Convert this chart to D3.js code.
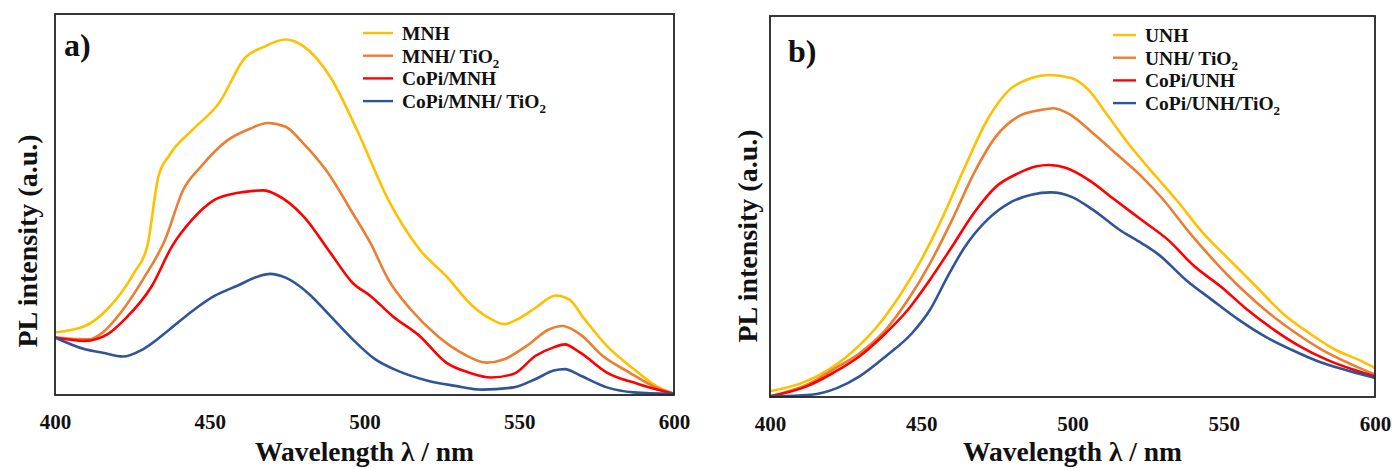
<!DOCTYPE html>
<html>
<head>
<meta charset="utf-8">
<script src="https://cdn.jsdelivr.net/npm/d3@7"></script>
<style>
body { margin: 0; background: #fff; }
text { font-family: "Liberation Serif", "Times New Roman", serif; font-weight: bold; fill: #111; }
</style>
</head>
<body>
<script>
// PL spectra, arbitrary units (0 = baseline, 100 = top of frame)
var mnh = [[400,16.4],[409.7,18.1],[416.9,22.5],[425.5,32],[429.8,39],[433.4,57.3],[437,63],[444.3,69.5],[452.9,76.5],[461.6,88.7],[467.3,91.3],[474.5,93.3],[480,91.7],[489,83.4],[497.6,69.5],[507.7,51.2],[517.8,38.2],[526.4,31.2],[535,23.3],[540.9,19.9],[545.2,18.6],[549.5,19.9],[555.3,22.9],[561.8,26.1],[566.1,25.1],[571.1,19.9],[578.3,12.9],[587,6.8],[594.2,2.4],[600,0.3]]
var mnhTi = [[400,15.1],[411,14.6],[415.4,16.4],[421.2,21.6],[428.4,30.3],[435.6,40.8],[441.4,53.8],[447.1,59.9],[455.8,66.9],[463,69.9],[468.8,71.4],[474.5,70.4],[480.3,66],[487.5,59.1],[496.2,47.7],[501.9,39.9],[507.7,30.3],[514.9,22.5],[523.6,15.5],[532.2,10.7],[539.4,8.5],[545.2,9.4],[552.4,12.9],[559.6,17.2],[564,18.1],[569.7,15.9],[576.9,10.3],[585.6,5.9],[594.2,2],[600,0.3]]
var copiMnh = [[400,15.1],[409.7,14.2],[416.9,15.9],[422.6,19.9],[431.3,28.6],[437.8,39],[444.3,46],[451.5,51.2],[458.7,53],[467.3,53.7],[471.7,52.5],[480.3,46.9],[489,37.3],[496.2,29.4],[501.9,26],[509.1,20.7],[517.8,15.5],[526.4,8.5],[533.7,5.9],[540.9,4.6],[548.1,5.5],[555.3,10.3],[561.1,12.5],[564.7,13.3],[569.7,11.1],[578.3,5.9],[588.4,2.9],[600,0.3]]
var copiMnhTi = [[400,15.1],[409.7,12],[415.4,11.1],[421.9,10.1],[428.4,12],[437,17.2],[444.3,22],[451.5,26],[458.7,28.6],[465.9,31.2],[469.5,31.8],[474.5,30.8],[481.7,26.8],[489,20.7],[496.2,14.6],[503.4,9.4],[510.6,6.4],[520.7,3.7],[529.3,2.4],[538,1.4],[548.1,2],[555.3,4.2],[561.1,6.4],[564.7,6.8],[569.7,5.1],[578.3,2],[587,0.7],[600,0.3]]

var unh = [[400,1.5],[410.6,3.7],[419.4,7.2],[426.7,11.5],[435.4,18.5],[442.7,26.4],[450,36],[457.2,47.4],[464.5,60.5],[471.8,72.7],[479.1,80.6],[486.4,83.7],[492.2,84.5],[499.5,83.7],[505.3,80.6],[511.1,74.5],[518.4,66.6],[525.7,59.6],[534.4,51.7],[543.2,43],[551.9,36],[560.7,29],[569.4,22],[578.2,16.8],[586.9,12.4],[595.6,9.4],[600,7.6]]
var unhTi = [[400,0.2],[413.5,3.7],[420.8,7.2],[429.6,11.5],[438.3,17.7],[445.6,25.5],[452.9,35.1],[460.2,46.5],[467.4,58.7],[474.7,68.4],[482,73.6],[489.3,75.3],[493.7,75.8],[499.5,74],[506.8,69.2],[515.5,63.1],[522.8,57.9],[530.1,51.7],[538.8,43],[547.6,35.1],[556.3,28.1],[565,22],[573.8,16.8],[582.5,12.4],[591.3,8.9],[600,5.9]]
var copiUnh = [[400,0.2],[412.1,2.8],[420.8,6.3],[429.6,10.7],[438.3,16.8],[445.6,22.9],[452.9,30.8],[460.2,39.5],[467.4,48.3],[474.7,55.2],[482,58.7],[487.8,60.5],[492.2,60.9],[498,60.1],[505.3,57],[514.1,51.7],[522.8,46.5],[531.5,41.3],[540.3,34.3],[549,29],[557.8,22.9],[566.5,17.7],[575.2,13.3],[584,9.8],[592.7,7.2],[600,5.4]]
var copiUnhTi = [[400,0.2],[413.5,0.6],[422.3,2.4],[429.6,5.4],[438.3,10.7],[447,16.8],[452.9,22.9],[458.7,31.6],[464.5,39.5],[471.8,46.5],[479.1,50.9],[486.4,53.1],[492.9,53.7],[499.5,52.6],[506.8,49.1],[515.5,43.9],[522.8,40.4],[528.6,37.3],[537.4,30.8],[546.1,25.5],[554.9,20.3],[563.6,15.9],[572.4,12.4],[581.1,9.4],[589.8,7.2],[600,5]]

var colors = ["#ffc000", "#ed7d31", "#ff0000", "#2f5597"]
var xTicks = [400, 450, 500, 550, 600]
// legend labels: [main text, subscript]
var labelsA = [["MNH",""],["MNH/ TiO","2"],["CoPi/MNH",""],["CoPi/MNH/ TiO","2"]]
var labelsB = [["UNH",""],["UNH/ TiO","2"],["CoPi/UNH",""],["CoPi/UNH/TiO","2"]]

var width = 1392, height = 469

var svg = d3.select("body").append("svg")
    .attr("width", width)
    .attr("height", height)

function panel(opt) {
    var x = d3.scaleLinear().domain([400, 600]).range([opt.left, opt.right])
    var y = d3.scaleLinear().domain([0, 100]).range([opt.bottom, opt.top])
    var g = svg.append("g")

    var line = d3.line()
        .x(function(d) { return x(d[0]) })
        .y(function(d) { return y(d[1]) })
        .curve(d3.curveMonotoneX)

    g.selectAll("path.series")
        .data(opt.series).enter()
        .append("path")
        .attr("class", "series")
        .attr("d", line)
        .attr("fill", "none")
        .attr("stroke", function(d, i) { return colors[i] })
        .attr("stroke-width", 2.6)
        .attr("stroke-linejoin", "round")

    g.append("rect")
        .attr("x", opt.left)
        .attr("y", opt.top)
        .attr("width", opt.right - opt.left)
        .attr("height", opt.bottom - opt.top)
        .attr("fill", "none")
        .attr("stroke", "#222")
        .attr("stroke-width", 1.8)

    var xAxis = g.append("g")
        .attr("transform", "translate(0," + opt.bottom + ")")
        .call(d3.axisBottom(x).tickValues(xTicks).tickSize(0).tickPadding(19))
    xAxis.select(".domain").remove()
    xAxis.selectAll("text")
        .style("font-family", "Liberation Serif")
        .style("font-weight", "bold")
        .style("font-size", "21px")
        .attr("fill", "#111")

    g.append("text")
        .attr("x", (opt.left + opt.right) / 2)
        .attr("y", 461)
        .attr("text-anchor", "middle")
        .style("font-size", "27.5px")
        .text("Wavelength λ / nm")

    g.append("text")
        .attr("transform", "translate(" + opt.ylabX + "," + opt.ylabY + ") rotate(-90)")
        .attr("text-anchor", "middle")
        .style("font-size", "28px")
        .text("PL intensity (a.u.)")

    g.append("text")
        .attr("x", opt.tagX)
        .attr("y", opt.tagY)
        .style("font-size", "32px")
        .text(opt.tag)

    var leg = g.selectAll("g.leg")
        .data(opt.labels).enter()
        .append("g")
        .attr("class", "leg")
        .attr("transform", function(d, i) { return "translate(" + opt.legX + "," + (opt.legY + i * 22.7) + ")" })

    leg.append("line")
        .attr("x1", 0)
        .attr("x2", opt.legLen)
        .attr("stroke", function(d, i) { return colors[i] })
        .attr("stroke-width", 2.4)

    var t = leg.append("text")
        .attr("x", opt.legLen + 9)
        .attr("dy", "0.35em")
        .style("font-size", "19.5px")
    t.append("tspan").text(function(d) { return d[0] })
    t.append("tspan")
        .attr("dy", 5)
        .style("font-size", "13px")
        .text(function(d) { return d[1] })
}

panel({
    left: 55, right: 674, top: 14, bottom: 395,
    series: [mnh, mnhTi, copiMnh, copiMnhTi],
    labels: labelsA,
    legX: 363, legY: 33, legLen: 30,
    tag: "a)", tagX: 64, tagY: 56,
    ylabX: 37, ylabY: 241
})

panel({
    left: 770, right: 1375, top: 16, bottom: 397,
    series: [unh, unhTi, copiUnh, copiUnhTi],
    labels: labelsB,
    legX: 1113, legY: 35, legLen: 23,
    tag: "b)", tagX: 788, tagY: 62,
    ylabX: 757, ylabY: 236
})
</script>
</body>
</html>
